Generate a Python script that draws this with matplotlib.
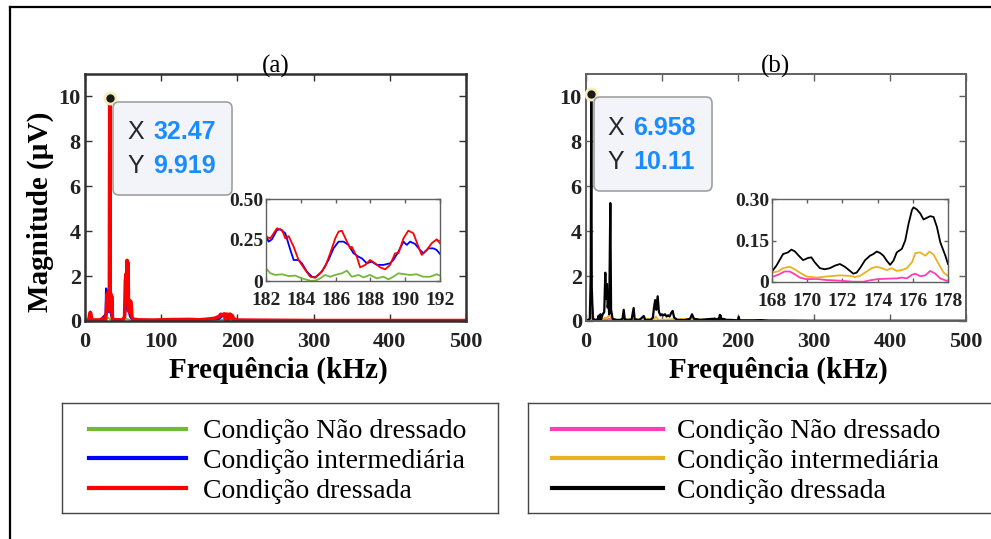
import numpy as np
import matplotlib
matplotlib.use('Agg')
import matplotlib.pyplot as plt
from matplotlib.lines import Line2D
from matplotlib.patches import FancyBboxPatch

# ---- spectrum (a): full band, kHz / uV ----
red_a_f = [0, 5, 6.5, 7.5, 9, 20, 24, 25, 27, 28, 29, 30, 30.5, 31, 31.5, 32, 32.47, 33, 33.5, 34,
           34.5, 35, 36, 40, 50, 52, 53, 54, 54.5, 55.2, 56, 56.5, 57, 58, 59, 60.4, 61.5, 63, 70,
           90, 110, 138, 150, 163, 170, 176, 178, 180, 193, 195, 200, 250, 300, 400, 500]
red_a_m = [0.03, 0.04, 0.36, 0.35, 0.04, 0.05, 0.12, 0.05, 0.06, 0.4, 1.2, 0.9, 1.3, 0.5, 1.25, 1.0,
           9.919, 1.3, 0.6, 1.2, 0.4, 1.1, 0.08, 0.05, 0.05, 0.2, 1.8, 2.1, 1.0, 2.7, 1.2, 2.6, 0.8,
           0.4, 0.9, 0.85, 0.2, 0.08, 0.05, 0.04, 0.06, 0.07, 0.05, 0.09, 0.12, 0.2, 0.3, 0.28, 0.25,
           0.1, 0.04, 0.03, 0.02, 0.02, 0.02]
blue_a_f = [0, 6, 7, 8, 20, 27, 27.6, 28.5, 29, 30, 31, 32.3, 33, 34, 36, 50, 53, 55, 57, 59, 62,
            100, 140, 175, 180, 194, 250, 300, 500]
blue_a_m = [0.03, 0.05, 0.42, 0.05, 0.04, 0.3, 1.45, 1.4, 0.7, 0.9, 0.4, 1.5, 0.5, 0.3, 0.05, 0.05,
            0.4, 0.8, 0.5, 0.2, 0.05, 0.04, 0.05, 0.08, 0.2, 0.05, 0.03, 0.02, 0.02]
green_a_f = [0, 7, 20, 30, 32, 35, 50, 55, 60, 100, 180, 195, 300, 500]
green_a_m = [0.02, 0.05, 0.02, 0.15, 0.1, 0.03, 0.02, 0.1, 0.03, 0.02, 0.06, 0.02, 0.01, 0.01]

# zoom 182-192 kHz
red_z_f = [182.00, 182.25, 182.63, 182.92, 183.11, 183.30, 183.59, 183.87, 184.26, 184.54, 184.83,
           185.12, 185.40, 185.69, 185.98, 186.17, 186.36, 186.65, 186.84, 186.93, 187.22, 187.41,
           187.70, 187.98, 188.27, 188.56, 188.85, 189.13, 189.42, 189.61, 189.90, 190.18, 190.47,
           190.76, 190.95, 191.24, 191.52, 191.81, 192.00]
red_z_m = [0.270, 0.260, 0.321, 0.311, 0.260, 0.274, 0.209, 0.128, 0.067, 0.026, 0.020, 0.047, 0.087,
           0.169, 0.260, 0.301, 0.307, 0.240, 0.199, 0.209, 0.148, 0.083, 0.098, 0.128, 0.108, 0.083,
           0.071, 0.098, 0.169, 0.169, 0.260, 0.307, 0.291, 0.209, 0.159, 0.189, 0.230, 0.254, 0.230]
blue_z_f = [182.00, 182.15, 182.34, 182.63, 182.82, 183.11, 183.40, 183.59, 183.87, 184.06, 184.35,
            184.64, 184.83, 185.21, 185.59, 185.88, 186.17, 186.46, 186.74, 187.03, 187.32, 187.51,
            187.79, 188.08, 188.37, 188.75, 189.13, 189.32, 189.61, 189.90, 190.09, 190.28, 190.57,
            190.85, 191.04, 191.33, 191.62, 191.81, 192.00]
blue_z_m = [0.280, 0.240, 0.254, 0.311, 0.315, 0.291, 0.189, 0.128, 0.128, 0.108, 0.057, 0.026, 0.022,
            0.057, 0.128, 0.199, 0.240, 0.240, 0.220, 0.169, 0.148, 0.138, 0.108, 0.118, 0.098, 0.098,
            0.108, 0.128, 0.179, 0.240, 0.220, 0.240, 0.226, 0.189, 0.169, 0.199, 0.199, 0.189, 0.165]
green_z_f = [182.00, 182.25, 182.54, 182.92, 183.30, 183.68, 184.06, 184.54, 184.83, 185.12, 185.40,
             185.69, 185.98, 186.36, 186.65, 186.93, 187.32, 187.60, 187.98, 188.37, 188.75, 189.04,
             189.32, 189.61, 189.99, 190.28, 190.66, 191.04, 191.43, 191.81, 192.00]
green_z_m = [0.077, 0.047, 0.037, 0.041, 0.030, 0.033, 0.016, 0.002, 0.002, 0.016, 0.037, 0.026, 0.037,
             0.047, 0.063, 0.026, 0.037, 0.022, 0.037, 0.016, 0.026, 0.010, 0.026, 0.047, 0.041, 0.037,
             0.041, 0.026, 0.026, 0.041, 0.033]

# ---- spectrum (b) ----
black_b_f = [0, 3, 5, 6.2, 6.958, 7.6, 9, 12, 15, 16.7, 17.5, 19, 20, 22, 24, 25.4, 26.2, 27.6, 28.5,
             29.5, 30.5, 32, 33, 35, 40, 45, 48, 49.6, 51, 55, 60, 62.7, 64, 70, 76, 78, 85, 88, 89.5,
             91, 92.5, 94.3, 96, 98, 100, 102, 104, 106, 108, 110, 112, 114, 116, 120, 130, 137, 139.5,
             142, 150, 160, 167, 180, 185, 190, 200, 201, 202, 210, 220, 230, 240, 260, 300, 400, 500]
black_b_m = [0.02, 0.05, 0.1, 2.0, 10.11, 1.5, 0.1, 0.05, 0.06, 0.24, 0.05, 0.3, 0.08, 0.3, 0.4, 2.15,
             1.0, 1.65, 0.6, 0.9, 0.3, 5.25, 0.5, 0.1, 0.05, 0.05, 0.1, 0.5, 0.08, 0.05, 0.07, 0.58,
             0.08, 0.04, 0.22, 0.05, 0.05, 0.15, 0.6, 0.93, 0.5, 1.1, 0.4, 0.25, 0.3, 0.25, 0.3, 0.2,
             0.25, 0.2, 0.35, 0.45, 0.15, 0.05, 0.04, 0.1, 0.3, 0.1, 0.05, 0.08, 0.1, 0.1, 0.05, 0.05,
             0.03, 0.18, 0.03, 0.03, 0.03, 0.04, 0.02, 0.02, 0.01, 0.01, 0.01]
orange_b_f = [0, 6, 7, 8, 20, 25, 27, 30, 32, 35, 50, 63, 90, 92, 95, 115, 140, 175, 180, 250, 300, 500]
orange_b_m = [0.02, 0.05, 0.3, 0.05, 0.03, 0.15, 0.1, 0.25, 0.2, 0.05, 0.05, 0.08, 0.1, 0.2, 0.05,
              0.08, 0.1, 0.1, 0.05, 0.01, 0.01, 0.01]
pink_b_f = [0, 7, 8.8, 10, 25, 30, 32, 40, 140, 167, 180, 250, 500]
pink_b_m = [0.02, 0.1, 0.63, 0.05, 0.05, 0.1, 0.08, 0.02, 0.03, 0.02, 0.01, 0.005, 0.005]

# zoom 168-178 kHz
black_z_f = [168.00, 168.25, 168.63, 168.91, 169.10, 169.29, 169.58, 169.77, 170.05, 170.24, 170.43,
             170.72, 171.00, 171.29, 171.57, 171.86, 172.14, 172.43, 172.62, 172.81, 173.00, 173.29,
             173.57, 173.76, 173.95, 174.14, 174.33, 174.52, 174.71, 174.90, 175.09, 175.38, 175.57,
             175.76, 175.95, 176.04, 176.23, 176.42, 176.61, 176.80, 176.99, 177.18, 177.37, 177.56,
             177.85, 178.00]
black_z_m = [0.038, 0.059, 0.101, 0.107, 0.117, 0.111, 0.091, 0.079, 0.087, 0.089, 0.071, 0.050, 0.046,
             0.050, 0.059, 0.065, 0.055, 0.040, 0.030, 0.034, 0.050, 0.079, 0.095, 0.101, 0.110, 0.105,
             0.095, 0.077, 0.062, 0.077, 0.107, 0.120, 0.150, 0.211, 0.260, 0.270, 0.262, 0.248, 0.226,
             0.232, 0.238, 0.235, 0.199, 0.144, 0.095, 0.065]
orange_z_f = [168.00, 168.34, 168.63, 169.01, 169.29, 169.58, 169.96, 170.53, 171.10, 171.86, 172.43,
              172.71, 173.00, 173.38, 173.67, 173.95, 174.24, 174.52, 174.81, 175.09, 175.38, 175.66,
              175.95, 176.14, 176.42, 176.71, 176.95, 177.18, 177.47, 177.75, 178.00]
orange_z_m = [0.034, 0.038, 0.050, 0.055, 0.046, 0.034, 0.020, 0.016, 0.020, 0.024, 0.022, 0.018,
              0.022, 0.038, 0.050, 0.055, 0.050, 0.043, 0.050, 0.040, 0.043, 0.050, 0.071, 0.104,
              0.107, 0.095, 0.110, 0.099, 0.065, 0.034, 0.022]
pink_z_f = [168.00, 168.34, 168.72, 169.01, 169.29, 169.58, 169.96, 170.53, 171.10, 171.48, 172.05,
            172.62, 173.19, 173.57, 173.95, 174.52, 175.09, 175.38, 175.66, 175.95, 176.14, 176.42,
            176.71, 176.99, 177.28, 177.56, 177.85, 178.00]
pink_z_m = [0.018, 0.026, 0.038, 0.038, 0.028, 0.016, 0.010, 0.011, 0.007, 0.006, 0.004, 0.001, 0.001,
            0.006, 0.010, 0.012, 0.013, 0.016, 0.013, 0.026, 0.030, 0.021, 0.024, 0.040, 0.030, 0.013,
            0.006, 0.004]

labels = ['Condição Não dressado', 'Condição intermediária', 'Condição dressada']
colors_a = ['#74b83a', '#0000ff', '#ff0000']
colors_b = ['#ff3db4', '#edb120', '#000000']
peak_a = (32.47, 9.919)
peak_b = (6.958, 10.11)

W, H = 991, 539
plt.rcParams['font.family'] = 'Liberation Serif'
plt.rcParams['font.weight'] = 'bold'


def merged(f1, m1, f2, m2):
    f = np.concatenate([f1, f2])
    m = np.concatenate([m1, m2])
    idx = np.argsort(f, kind='stable')
    return f[idx], m[idx]


def px_box(x0, y0, x1, y1):
    # pixel box (top-left origin) -> figure fraction rect
    return [x0 / W, 1 - y1 / H, (x1 - x0) / W, (y1 - y0) / H]


def style_axes(ax, spine_col, spine_w, size, pad_x, pad_y, tick_len):
    for s in ax.spines.values():
        s.set_color(spine_col)
        s.set_linewidth(spine_w)
    ax.tick_params(direction='in', top=True, right=True, length=tick_len, width=1.0,
                   colors=spine_col, labelcolor='#222222', labelsize=size)
    ax.tick_params(axis='x', pad=pad_x)
    ax.tick_params(axis='y', pad=pad_y)


def datatip(ax, peak, box_px, x_px, num_px, rows_px):
    ax.plot(*peak, 'o', ms=8, mfc='#1a1a1a', mec='#f3eebc', mew=2, zorder=10, clip_on=False)
    x0, y0, x1, y1 = box_px
    box = FancyBboxPatch((x0 / 100, (H - y1) / 100), (x1 - x0) / 100, (y1 - y0) / 100,
                         boxstyle='round,pad=0,rounding_size=0.06', transform=fig.dpi_scale_trans,
                         fc='#f3f4fa', ec='#a0a0a0', lw=1.2, zorder=5)
    fig.add_artist(box)
    for name, val, yy in zip(['X', 'Y'], peak, rows_px):
        fig.text(x_px / W, 1 - yy / H, name, family='Liberation Sans', weight='normal',
                 size=18, color='#262626', va='center', ha='left', zorder=6)
        fig.text(num_px / W, 1 - yy / H, f'{val:.4g}', family='Liberation Sans', weight='bold',
                 size=18, color='#1a8cff', va='center', ha='left', zorder=6)


fig = plt.figure(figsize=(W / 100, H / 100), dpi=100)

# outer frame
fig.add_artist(Line2D([10 / W, 1.0], [1 - 7 / H, 1 - 7 / H], color='k', lw=1.6))
fig.add_artist(Line2D([10 / W, 10 / W], [1 - 7 / H, 0.0], color='k', lw=1.6))

ax_a = fig.add_axes(px_box(85, 74, 466, 321))
ax_b = fig.add_axes(px_box(586, 74, 966, 321))

series_a = [(green_a_f, green_a_m, green_z_f, green_z_m, 1.2),
            (blue_a_f, blue_a_m, blue_z_f, blue_z_m, 1.5),
            (red_a_f, red_a_m, red_z_f, red_z_m, 2.6)]
series_b = [(pink_b_f, pink_b_m, pink_z_f, pink_z_m, 1.2),
            (orange_b_f, orange_b_m, orange_z_f, orange_z_m, 1.3),
            (black_b_f, black_b_m, black_z_f, black_z_m, 1.6)]

for ax, series, colors in [(ax_a, series_a, colors_a), (ax_b, series_b, colors_b)]:
    for (f, m, fz, mz, lw), c in zip(series, colors):
        ff, mm = merged(f, m, fz, mz)
        ax.plot(ff, mm, color=c, lw=lw)
    ax.set_xlim(0, 500)
    ax.set_ylim(0, 11)
    ax.set_xticks([0, 100, 200, 300, 400, 500])
    ax.set_yticks([0, 2, 4, 6, 8, 10])

style_axes(ax_a, '#303030', 1.8, 16, 8, 3, 5)
style_axes(ax_b, '#606060', 1.4, 16, 8, 3, 5)

ax_a.set_title('(a)', fontsize=18, fontweight='normal', pad=1)
ax_b.set_title('(b)', fontsize=18, fontweight='normal', pad=1)
fig.text(278 / W, 1 - 370 / H, 'Frequência (kHz)', fontsize=21, ha='center', va='center')
fig.text(778 / W, 1 - 370 / H, 'Frequência (kHz)', fontsize=21, ha='center', va='center')
fig.text(40 / W, 1 - 212 / H, 'Magnitude (µV)', fontsize=21, rotation=90, ha='center', va='center')

datatip(ax_a, peak_a, (113, 102, 232, 195), 127, 153, (132, 166))
datatip(ax_b, peak_b, (594, 97, 712, 191), 607, 633, (128, 162))

# zoomed insets
ins_a = fig.add_axes(px_box(266, 199, 440, 281))
for f, m, c in zip([green_z_f, blue_z_f, red_z_f], [green_z_m, blue_z_m, red_z_m], colors_a):
    ins_a.plot(f, m, color=c, lw=1.3)
ins_a.set_xlim(182, 192)
ins_a.set_ylim(0, 0.5)
ins_a.set_xticks([182, 184, 186, 188, 190, 192])
ins_a.set_yticks([0, 0.25, 0.5])
ins_a.set_yticklabels(['0', '0.25', '0.50'])

ins_b = fig.add_axes(px_box(772, 199, 948, 282))
for f, m, c in zip([pink_z_f, orange_z_f, black_z_f], [pink_z_m, orange_z_m, black_z_m], colors_b):
    ins_b.plot(f, m, color=c, lw=1.3)
ins_b.set_xlim(168, 178)
ins_b.set_ylim(0, 0.3)
ins_b.set_xticks([168, 170, 172, 174, 176, 178])
ins_b.set_yticks([0, 0.15, 0.3])
ins_b.set_yticklabels(['0', '0.15', '0.30'])

for ins in (ins_a, ins_b):
    style_axes(ins, '#606060', 1.0, 14, 8, 2, 3)

# legend boxes
for rect, colors, x_start, hlen, tpad in [(px_box(62, 403, 498, 513), colors_a, 27, 3.5, 0.61),
                                          (px_box(528, 403, 995, 513), colors_b, 24, 4.0, 0.5)]:
    lax = fig.add_axes(rect)
    lax.set_xticks([])
    lax.set_yticks([])
    for s in lax.spines.values():
        s.set_color('#444444')
        s.set_linewidth(1.0)
    handles = [Line2D([], [], color=c, lw=3) for c in colors]
    lax.legend(handles, labels, loc='center left', bbox_to_anchor=(x_start / (rect[2] * W), 0.47),
               frameon=False, borderpad=0, borderaxespad=0, handlelength=hlen, handletextpad=tpad,
               labelspacing=0.15, prop={'family': 'Liberation Serif', 'weight': 'normal', 'size': 20})

fig.savefig('out.png', dpi=100)
